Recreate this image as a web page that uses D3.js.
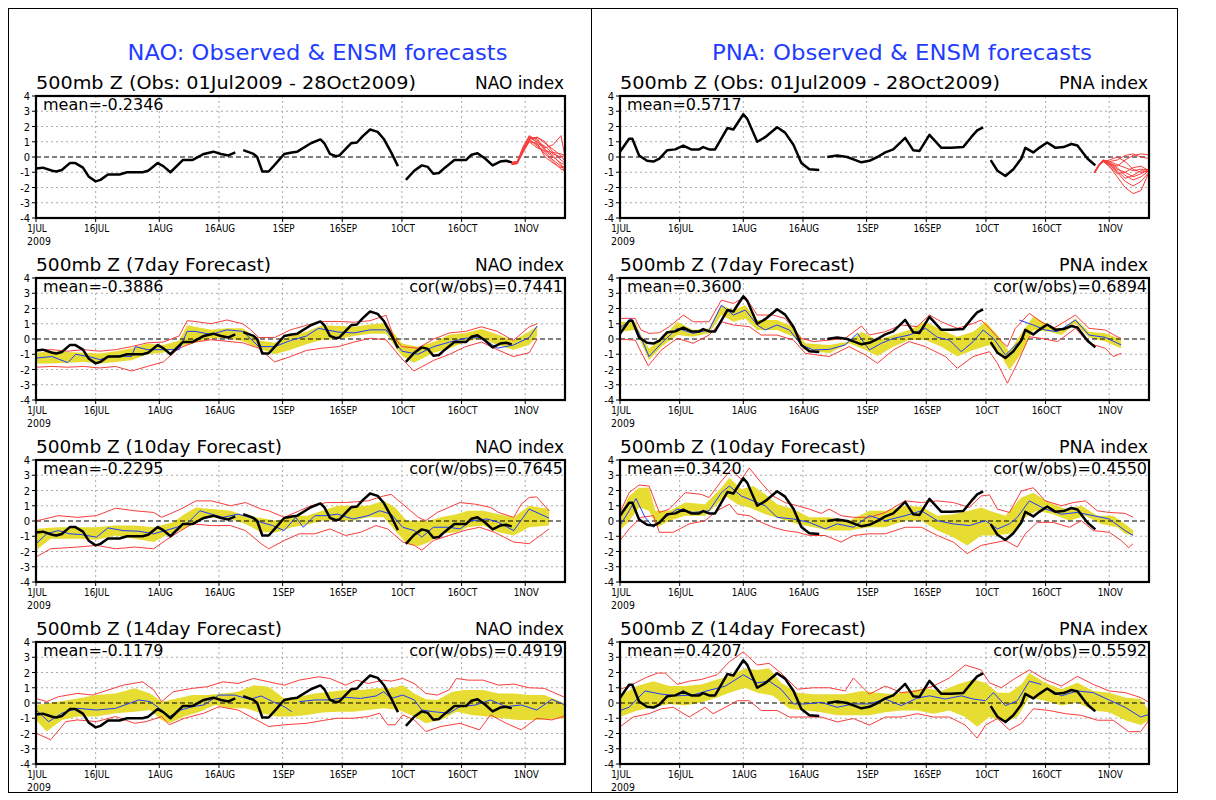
<!DOCTYPE html>
<html><head><meta charset="utf-8">
<script src="https://cdn.jsdelivr.net/npm/d3@7"></script>
<style>body{margin:0;background:#fff;} svg{display:block;} text{font-family:"DejaVu Sans",sans-serif;}</style>
</head><body><svg id="c" width="1216" height="800"></svg>
<script>
// ---------------- DATA ----------------
const dayTicks = [0,15,31,46,62,77,92,107,123];
const dayTickLabels = ["1JUL","16JUL","1AUG","16AUG","1SEP","16SEP","1OCT","16OCT","1NOV"];
const yTicks = [-4,-3,-2,-1,0,1,2,3,4];
const dayMax = 133;
const subTitles = ["500mb Z (Obs: 01Jul2009 - 28Oct2009)","500mb Z (7day Forecast)","500mb Z (10day Forecast)","500mb Z (14day Forecast)"];
const naoMeans = ["-0.2346","-0.3886","-0.2295","-0.1179"];
const naoCors = [null,"0.7441","0.7645","0.4919"];
const pnaMeans = ["0.5717","0.3600","0.3420","0.4207"];
const pnaCors = [null,"0.6894","0.4550","0.5592"];

// observed NAO (day since 1 Jul, value), segments split at missing data
const naoObs = [
 [[0,-0.75],[1.7,-0.7],[4.1,-0.9],[5.1,-0.95],[6.5,-0.85],[8.5,-0.4],[9.9,-0.4],[11.8,-0.7],[13.3,-1.3],[15,-1.6],[16.2,-1.5],[18.1,-1.15],[21,-1.15],[22.9,-1.0],[26.8,-1.0],[28.2,-0.9],[30.6,-0.4],[32,-0.6],[33.8,-1.0],[36.9,-0.2],[39.3,-0.2],[42.2,0.2],[44.6,0.35],[46.5,0.2],[48.4,0.1],[50.1,0.3]],
 [[52.1,0.45],[54.7,0.2],[55.6,0.0],[56.9,-0.95],[58.5,-0.95],[60.4,-0.4],[62.4,0.2],[64.3,0.3],[65.7,0.35],[69.1,0.9],[71.5,1.15],[72.5,0.9],[73.9,0.2],[75.4,0.05],[76.3,0.1],[79.2,0.9],[80.7,0.95],[82.1,1.35],[84,1.8],[85.9,1.65],[87.4,1.2],[89.3,0.3],[91,-0.6]],
 [[93,-1.5],[95.1,-0.9],[97,-0.55],[98.5,-0.65],[99.9,-1.1],[101.3,-1.05],[102.8,-0.7],[105.2,-0.2],[108.1,-0.2],[109.5,0.15],[111,0.25],[112.9,-0.1],[114.8,-0.55],[116.7,-0.3],[118.2,-0.25],[119.6,-0.35]]
];
const pnaObs = [
 [[0,0.35],[2.3,1.2],[3.1,1.2],[4.8,0.1],[6.8,-0.25],[8.4,-0.3],[9.9,-0.1],[11.9,0.45],[13.9,0.5],[15.9,0.75],[17.9,0.5],[19.9,0.5],[20.9,0.65],[22.4,0.5],[23.9,0.5],[27,1.9],[28.5,1.8],[31,2.8],[32,2.5],[34.5,1.0],[36.5,1.3],[39.5,1.95],[41.5,1.6],[43.6,0.8],[45.6,-0.4],[47.6,-0.8],[50.1,-0.85]],
 [[52.1,0.0],[54.6,0.1],[57.1,0.0],[59.2,-0.2],[60.7,-0.35],[62.7,-0.25],[64.7,0.0],[66.7,0.3],[68.7,0.5],[71.7,1.25],[73.7,0.45],[75.3,0.4],[77.8,1.45],[80.8,0.6],[83.3,0.6],[86.3,0.65],[88.3,1.3],[89.8,1.75],[91.3,1.95]],
 [[93.2,-0.2],[94.9,-0.9],[96.9,-1.25],[98.9,-0.8],[100.9,-0.1],[101.9,0.6],[103.9,0.3],[105.4,0.6],[107.4,0.95],[109.5,0.6],[111.5,0.65],[113.5,0.85],[115,0.75],[117.5,-0.1],[119.5,-0.55]]
];

// ensemble forecast members (top panels)
const naoEnsDays = [119.6,121,122.5,124,126,128,130,132,133];
const naoEns = [
 [-0.35,-0.3,0.6,1.3,1.0,0.7,0.2,0.0,0.1],
 [-0.4,-0.35,0.5,1.2,1.3,0.9,0.5,0.1,-0.3],
 [-0.45,-0.4,0.4,1.1,0.8,0.3,-0.2,-0.6,-0.7],
 [-0.35,-0.3,0.7,1.4,1.1,0.4,0.0,-0.4,-0.5],
 [-0.5,-0.45,0.3,1.0,0.9,0.6,0.8,1.4,0.0],
 [-0.4,-0.35,0.5,1.3,1.2,0.5,0.1,-0.5,-1.0],
 [-0.45,-0.35,0.6,1.2,0.7,0.2,-0.3,-0.8,-0.9],
 [-0.4,-0.3,0.5,1.0,0.6,0.4,0.3,0.2,0.1],
 [-0.35,-0.4,0.4,1.35,0.9,0.0,-0.4,-0.7,-0.6],
 [-0.5,-0.4,0.5,1.15,1.3,1.0,0.3,-0.2,-0.4]
];
const pnaEnsDays = [119.3,120.5,121.5,123,125,127,129,131,133];
const pnaEns = [
 [-1.05,-0.5,-0.2,-0.4,-0.6,-0.2,0.1,0.2,0.15],
 [-1.0,-0.45,-0.25,-0.5,-0.9,-1.4,-1.2,-0.9,-0.95],
 [-1.05,-0.55,-0.3,-0.6,-1.3,-2.0,-2.4,-2.2,-1.0],
 [-0.95,-0.5,-0.2,-0.3,-0.5,-0.7,-0.9,-0.8,-0.85],
 [-1.0,-0.5,-0.3,-0.2,0.0,-0.3,-0.8,-1.0,-0.9],
 [-1.05,-0.55,-0.25,-0.5,-1.0,-1.6,-1.9,-1.6,-1.0],
 [-1.0,-0.45,-0.2,-0.3,-0.2,0.1,0.2,0.0,-0.1],
 [-1.0,-0.5,-0.3,-0.45,-0.8,-1.0,-1.3,-1.1,-0.8],
 [-1.05,-0.5,-0.25,-0.4,-0.7,-1.2,-1.5,-1.3,-0.9],
 [-1.0,-0.5,-0.3,-0.6,-1.1,-1.0,-0.7,-0.6,-0.9]
];

// ---- NAO 7-day forecast ----
const naoF7Mean = [[[0,-1.25],[4,-1.15],[8,-1.55],[10,-1.0],[14,-1.2],[16,-1.35],[20,-1.1],[24,-1.15],[25,-0.5],[28,-0.7],[32,-0.7],[36,-0.7],[38,0.5],[40,0.5],[44,0.3],[48,0.6],[52,0.5],[56,-0.5],[60,-0.5],[64,-0.1],[68,0.2],[71,0.7],[76,0.45],[80,0.4],[84,0.6],[88,0.6],[92,-0.8],[96,-1.0],[100,-0.5],[104,-0.2],[108,0.05],[112,0.1],[116,-0.6],[120,-0.4],[124,0.1],[126,0.85]]];
const naoF7YelHi = [[0,-0.9],[4,-0.8],[8,-0.85],[12,-0.9],[16,-0.95],[20,-0.8],[24,-0.6],[28,-0.3],[32,-0.4],[36,-0.1],[38,0.9],[40,0.8],[44,0.6],[48,0.7],[52,0.7],[56,-0.1],[60,-0.25],[64,0.2],[68,0.5],[72,0.9],[76,0.85],[80,0.8],[84,0.95],[88,1.05],[92,-0.3],[96,-0.5],[100,-0.2],[104,0.3],[108,0.4],[112,0.65],[116,0.3],[120,-0.1],[124,0.5],[126,0.85]];
const naoF7YelLo = [[0,-1.6],[4,-1.6],[8,-1.55],[12,-1.5],[16,-1.6],[20,-1.5],[24,-1.4],[28,-1.0],[32,-0.9],[36,-0.5],[40,-0.25],[44,0.05],[48,0.05],[52,-0.15],[56,-0.6],[60,-1.0],[64,-0.7],[68,-0.35],[72,-0.05],[76,0.0],[80,0.2],[84,0.35],[88,0.35],[92,-1.1],[95,-1.55],[100,-0.9],[104,-0.6],[108,-0.2],[112,0.05],[116,-0.4],[120,-0.7],[124,-0.4],[126,0.2]];
const naoF7RedHi = [[0,-0.7],[4,-0.7],[8,-0.8],[12,-0.7],[16,-0.8],[20,-0.7],[24,-0.5],[28,-0.25],[32,-0.2],[36,0.2],[38,1.2],[40,1.15],[44,1.0],[48,1.25],[52,1.0],[54,0.6],[56,0.1],[60,0.1],[64,0.6],[68,0.9],[72,1.15],[76,1.15],[80,1.1],[84,1.2],[88,1.55],[90,0.1],[92,-0.5],[96,-0.6],[100,0.0],[104,0.4],[108,0.5],[112,0.8],[116,0.5],[120,-0.1],[124,0.8],[126,1.0]];
const naoF7RedLo = [[0,-1.85],[4,-1.8],[8,-1.85],[12,-1.8],[16,-1.9],[20,-1.8],[24,-2.1],[28,-1.8],[32,-1.5],[36,-0.6],[40,-0.2],[44,-0.05],[48,-0.15],[52,-0.25],[56,-0.6],[60,-1.5],[64,-1.15],[68,-0.75],[72,-0.6],[76,-0.5],[80,-0.2],[84,0.05],[88,-0.05],[92,-1.3],[95,-2.1],[100,-1.4],[104,-1.0],[108,-0.5],[112,-0.2],[116,-0.7],[120,-1.15],[124,-0.9],[126,0.0]];

// ---- NAO 10-day forecast ----
const naoF10Mean = [[[0,-1.49],[2.7,-0.84],[5.6,-0.63],[8.5,-0.84],[11.4,-0.89],[15.2,-1.06],[18.1,-0.45],[21.9,-0.63],[25.8,-0.67],[29.6,-0.84],[32.5,-0.63],[35.4,-0.41],[38.3,-0.09],[41.2,0.67],[44.1,0.45],[47,0.24],[50.8,0.45],[53.7,0.24],[56.6,-0.09],[59.5,-0.3],[62.4,-0.63],[65.3,0.24],[67.2,-0.41],[70.1,0.35],[73,0.35],[75.8,0.45],[79.7,0.13],[83.5,0.35],[86.4,0.67],[89.3,0.45],[92.2,-0.41],[95.1,-0.63],[97,-1.06],[99.9,-0.41],[103.8,-0.41],[106.6,-0.52],[109.5,0.02],[113.4,0.13],[116.3,-0.09],[120.1,-0.63],[124,0.78],[129,0.19]]];
const naoF10YelHi = [[0,-0.5],[5.6,-0.41],[10.4,-0.41],[15.2,-0.41],[20,-0.3],[24.8,-0.3],[29.6,-0.41],[34.5,-0.09],[37.3,0.45],[40.2,0.89],[44.1,0.78],[48.9,0.67],[52.7,0.35],[56.6,0.19],[60.4,0.02],[64.3,0.35],[68.1,0.35],[72,0.67],[75.8,1.0],[79.7,1.0],[83.5,1.0],[87.4,1.32],[90.3,0.89],[93.2,0.02],[96.1,0.02],[98.9,0.02],[101.8,0.24],[105.7,0.45],[108.6,0.67],[112.4,0.67],[116.3,0.45],[120.1,0.24],[124,1.0],[129,0.78]];
const naoF10YelLo = [[0,-1.92],[3.7,-1.17],[10.4,-1.17],[15.2,-1.23],[20,-0.95],[24.8,-1.17],[29.6,-1.38],[33.5,-0.84],[37.3,-0.52],[41.2,0.13],[45,0.24],[48.9,0.13],[52.7,-0.19],[56.6,-0.74],[60.4,-0.74],[64.3,-0.41],[68.1,-0.24],[72,0.02],[75.8,0.02],[79.7,0.02],[83.5,0.24],[87.4,0.24],[90.3,-0.63],[93.2,-1.49],[96.1,-1.66],[98.9,-1.38],[101.8,-0.84],[105.7,-0.74],[108.6,-0.41],[112.4,-0.3],[116.3,-0.74],[120.1,-0.95],[124,-0.41],[129,-0.3]];
const naoF10RedHi = [[0,0.0],[5.6,0.35],[10.4,0.24],[15.2,0.35],[20,0.84],[24.8,0.67],[29.6,0.56],[31.6,0.24],[36.4,0.78],[40.2,1.32],[44.1,1.32],[48.9,1.0],[52.7,1.21],[56.6,0.78],[58.5,0.67],[62.4,0.24],[66.2,0.67],[69.1,1.0],[73,1.21],[77.8,1.21],[83.5,1.32],[87.4,1.64],[89.3,1.75],[91.2,1.32],[93.2,0.89],[96.1,0.24],[98,0.02],[100.9,0.56],[103.8,0.89],[106.6,1.21],[110.5,1.1],[114.3,0.89],[116.3,0.56],[120.1,0.24],[122,1.1],[124,1.54],[125.9,1.58],[129,0.67]];
const naoF10RedLo = [[0,-2.36],[3.7,-1.82],[10.4,-1.71],[15.2,-1.6],[20,-1.82],[24.8,-1.71],[29.6,-1.82],[32.5,-1.28],[36.4,-0.63],[39.3,-0.19],[44.1,-0.3],[48.9,-0.3],[52.7,-0.63],[56.6,-1.49],[58.5,-1.82],[62.4,-1.28],[66.2,-0.84],[70.1,-0.84],[73.9,-0.52],[77.8,-0.95],[81.6,-0.74],[85.5,-0.3],[88.4,-0.52],[92.2,-1.38],[95.1,-1.6],[97,-1.92],[99.9,-1.28],[103.8,-0.95],[107.6,-0.63],[111.5,-0.41],[115.3,-0.74],[120.1,-1.38],[124,-1.49],[129,-0.52]];

// ---- NAO 14-day forecast ----
const naoF14Mean = [
 [[0,-0.46],[3.2,-1.22],[6.5,-0.67],[10.4,-0.35],[15.2,-0.46],[20,-0.35],[25.8,0.2],[28.7,0.09],[31.6,-0.46],[33.5,-0.89],[36.4,-0.46],[39.3,-0.24],[42.2,-0.13],[46,0.52],[49.9,0.52],[53.7,0.24],[56.6,0.46],[59.5,0.09],[62.4,-0.24],[64.3,-0.57]],
 [[66.2,0.09],[70.1,0.2],[73.9,0.2],[77.8,0.37],[81.6,0.3],[85.5,0.46],[87.4,0.74],[89.3,0.3],[92.2,0.52],[95.1,0.2],[97,-0.46],[99.9,-0.57],[103.8,-0.67],[106.6,-0.24],[110.5,-0.13],[114.3,0.2],[118.2,-0.24],[122,-0.13],[125.9,-0.46],[129.7,0.24],[133,-0.13]]
];
const naoF14YelHi = [[0,-0.13],[5.6,0.09],[10.4,0.3],[15.2,0.52],[20,0.63],[24.8,0.96],[28.7,0.63],[31.6,0.09],[35.4,0.3],[39.3,0.52],[43.1,0.52],[47,0.63],[50.8,0.74],[54.7,1.17],[58.5,1.07],[62.4,0.3],[66.2,0.41],[70.1,0.63],[73.9,0.74],[77.8,0.85],[81.6,0.85],[85.5,0.96],[89.3,0.96],[92.2,1.17],[95.1,0.63],[98,0.24],[100.9,0.2],[104.7,0.74],[107.6,0.85],[112.4,0.85],[116.3,0.63],[120.1,0.63],[124,0.52],[127.8,0.52],[133,-0.02]];
const naoF14YelLo = [[0,-1.11],[2.7,-1.87],[6.5,-1.11],[10.4,-0.89],[15.2,-0.89],[20,-0.67],[24.8,-0.57],[28.7,-0.46],[31.6,-1.11],[33.5,-1.33],[37.3,-0.89],[41.2,-0.57],[45,-0.13],[48.9,-0.35],[52.7,-0.35],[56.6,-0.67],[60.4,-0.89],[64.3,-0.89],[68.1,-0.78],[72,-0.63],[75.8,-0.57],[79.7,-0.57],[83.5,-0.46],[87.4,-0.35],[91.2,-0.46],[95.1,-0.89],[98,-1.33],[101.8,-1.11],[105.7,-0.57],[109.5,-0.78],[113.4,-0.89],[117.2,-1.0],[121,-1.11],[125.9,-1.11],[133,-1.0]];
const naoF14RedHi = [[0,0.3],[2.7,0.09],[5.6,0.41],[10.4,0.63],[14.2,0.52],[18.1,0.85],[21.9,1.17],[26.8,1.39],[29.6,0.85],[31.6,0.09],[34.5,0.74],[39.3,0.96],[43.1,1.07],[47,1.39],[50.8,1.28],[54.7,1.61],[58.5,1.39],[62.4,1.17],[66.2,1.5],[71,1.72],[73.9,1.61],[77.8,1.17],[80.7,1.5],[83.5,1.28],[87.4,1.5],[89.3,1.43],[92.2,1.61],[95.1,1.28],[98,0.63],[100.9,0.52],[103.8,0.85],[105.7,1.61],[108.6,1.5],[112.4,1.5],[116.3,1.17],[120.1,1.24],[124,1.0],[127.8,0.96],[132.6,0.41],[133,0.4]];
const naoF14RedLo = [[0,-1.98],[3.7,-2.41],[7.5,-1.22],[10.4,-1.11],[15.2,-1.22],[20,-0.89],[24.8,-1.33],[27.7,-1.22],[31.6,-0.89],[33.5,-1.43],[37.3,-1.0],[42.2,-0.67],[46,-0.24],[50.8,-0.46],[54.7,-1.0],[58.5,-1.54],[62.4,-1.43],[68.1,-1.33],[72,-1.15],[75.8,-1.0],[79.7,-1.0],[83.5,-0.89],[86.4,-0.67],[88.4,-1.43],[90.3,-1.43],[92.2,-0.78],[95.1,-1.11],[98,-1.87],[101.8,-1.54],[106.6,-1.33],[111.5,-1.76],[114.3,-0.78],[118.2,-1.33],[122,-1.76],[125.9,-1.0],[129.7,-1.11],[133,-0.85]];

// ---- PNA 7-day forecast ----
const pnaF7Mean = [
 [[0,0.7],[2.8,1.35],[4.8,0.37],[7.3,-1.15],[10.4,-0.28],[14.4,0.7],[18.4,0.37],[22.4,0.59],[25.5,2.22],[28.5,1.57],[31.5,1.9],[34.5,0.92],[36.5,0.59],[39.5,0.92],[42.6,0.59],[45.6,-0.39],[48.6,-0.72],[52.6,-0.68],[56.6,-0.39],[59.7,0.37],[62.7,-0.72],[65.7,-0.28],[68.7,0.04],[72.7,0.26],[76.8,0.7],[79.8,0.11],[82.8,-0.07],[85.8,-0.83],[88.8,-0.17],[91.3,0.59],[93.9,0.04],[96.9,-1.05],[99.9,-0.28]],
 [[100.4,1.24],[103.9,0.92],[106.9,0.59],[110,0.48],[114.5,1.24],[117.9,0.26],[122,0.11],[126,-0.39]]
];
const pnaF7YelHi = [[0,1.13],[3.8,1.13],[5.3,0.26],[7.3,-0.61],[10.4,-0.07],[14.4,1.13],[18.4,0.59],[22.4,0.7],[25.5,2.22],[28.5,1.9],[31.5,2.22],[34.5,1.24],[39.5,1.24],[43.6,0.81],[46.6,-0.28],[52.6,-0.39],[57.6,-0.17],[60.7,0.48],[64.7,-0.07],[68.7,0.26],[72.7,0.59],[76.8,1.13],[80.8,0.59],[84.8,0.15],[88.8,0.48],[91.9,1.13],[94.9,0.26],[97.9,-0.83],[100.9,0.37],[103.9,1.46],[107.9,0.92],[111,0.59],[114.5,1.35],[117.9,0.48],[122,0.37],[126,-0.02]];
const pnaF7YelLo = [[0,0.48],[3.8,0.59],[7.3,-1.37],[10.4,-0.5],[14.4,0.26],[18.4,0.15],[22.4,0.37],[25.5,1.57],[28.5,1.13],[31.5,1.35],[34.5,0.59],[39.5,0.59],[43.6,0.15],[46.6,-0.72],[52.6,-0.94],[57.6,-0.28],[61.7,-0.72],[64.7,-1.11],[68.7,-0.5],[72.7,-0.07],[76.8,-0.07],[80.8,-0.5],[84.8,-1.15],[88.8,-0.72],[92.9,-0.39],[95.9,-1.15],[97.9,-2.03],[100.9,-0.94],[103.9,0.59],[107.9,0.48],[111,0.26],[114.5,1.02],[117.9,0.11],[122,-0.17],[126,-0.61]];
const pnaF7RedHi = [[0,1.35],[3.8,1.35],[5.3,0.59],[7.3,0.37],[9.9,0.41],[12.4,0.81],[15.9,1.57],[18.4,1.13],[22.4,1.13],[25.5,2.55],[28.5,2.33],[31.5,2.77],[34.5,1.57],[38.5,1.57],[41.5,1.35],[45.6,0.04],[48.6,-0.17],[52.6,-0.07],[56.6,0.04],[60.7,0.85],[62.7,0.26],[66.7,0.48],[70.7,0.92],[74.7,0.81],[77.8,1.57],[80.8,1.13],[84.8,0.7],[88.8,1.02],[90.8,1.24],[92.9,0.7],[95.9,-0.17],[97.4,-0.5],[99.4,0.7],[102.9,1.68],[105.9,1.13],[109,0.7],[114.5,1.57],[117.9,0.7],[122,0.59],[125,0.15],[126,0.04]];
const pnaF7RedLo = [[0,-0.02],[3.8,-0.07],[7.1,-1.76],[10.4,-0.72],[14.4,0.04],[18.4,-0.28],[22.4,0.26],[25.5,1.13],[28.5,0.92],[32.5,0.81],[35.5,0.26],[39.5,0.26],[43.6,-0.07],[46.6,-0.94],[52.6,-1.15],[57.6,-0.5],[61.7,-1.05],[64.7,-1.59],[68.7,-0.72],[72.7,-0.17],[76.8,-0.5],[81.8,-1.15],[84.8,-1.92],[88.8,-1.15],[92.9,-0.83],[94.9,-1.59],[97.4,-2.9],[99.9,-1.59],[102.9,0.15],[105.9,0.04],[110,-0.17],[114.5,0.7],[117.9,-0.28],[122,-0.61],[124,-1.15],[126,-0.94]];

// ---- PNA 10-day forecast ----
const pnaF10Mean = [[[0,-0.3],[2.3,0.67],[4,1.47],[6.3,0.24],[8.4,-0.41],[11.4,0.24],[14.4,0.78],[18.4,0.56],[22.4,0.67],[25.5,1.86],[27.5,2.29],[30.5,1.64],[33.5,1.32],[36.5,1.0],[39.5,0.24],[43.6,0.13],[47.6,-0.09],[51.6,-0.52],[54.6,-0.19],[58.7,-0.41],[62.7,0.35],[66.7,0.02],[71.7,0.35],[75.8,0.67],[79.8,0.02],[83.8,-0.19],[87.8,-0.3],[91.9,0.02],[94.9,-0.52],[97.9,-0.19],[99.9,0.24],[102.9,1.32],[106.9,0.78],[111,0.45],[115,0.56],[119,0.35],[123,0.13],[127,-0.63],[129,-0.95]]];
const pnaF10YelHi = [[0,0.45],[2.3,1.64],[4.8,2.18],[7.3,2.18],[8.9,0.67],[12.4,0.67],[16.4,1.21],[21.4,1.1],[25.5,2.18],[27.5,2.83],[30.5,2.08],[33.5,2.29],[36.5,1.75],[39.5,1.1],[43.6,0.78],[47.6,0.24],[52.6,0.24],[57.6,0.02],[62.7,0.67],[66.7,0.67],[71.7,1.0],[75.8,0.94],[79.8,0.35],[83.8,0.45],[87.8,0.67],[90.8,0.89],[92.9,0.67],[96.9,0.35],[100.9,1.54],[103.9,1.86],[107.9,1.21],[112,0.78],[116,1.0],[120,0.35],[124,0.35],[127,-0.19],[129,-0.63]];
const pnaF10YelLo = [[0,-0.63],[2.3,0.0],[4.8,0.89],[7.3,0.67],[9.4,-0.41],[12.4,0.02],[16.4,0.35],[21.4,0.35],[24.4,1.1],[26.5,1.64],[29.5,1.1],[32.5,0.89],[36.5,0.45],[40.5,0.13],[44.6,-0.19],[48.6,-0.41],[52.6,-0.63],[57.6,-0.63],[62.7,-0.41],[66.7,-0.41],[71.7,0.02],[75.8,0.02],[79.8,-0.63],[83.8,-1.06],[87.3,-1.6],[90.8,-0.95],[93.9,-0.95],[97.9,-0.84],[99.9,-0.63],[101.9,0.24],[104.9,0.67],[108.9,0.45],[113,0.02],[117,0.35],[121,-0.19],[125,-0.41],[127,-0.84],[129,-0.95]];
const pnaF10RedHi = [[0,0.56],[2.3,1.86],[4.8,2.36],[7.3,2.29],[9.9,0.56],[12.4,0.78],[16.4,1.86],[20.4,1.75],[22.4,1.54],[25.5,2.62],[28,3.37],[30.5,2.72],[32.5,3.48],[35.5,2.51],[38.5,1.64],[41.5,1.21],[44.6,1.0],[47.6,0.78],[50.6,0.5],[52.6,0.78],[55.6,0.35],[58.7,0.24],[62.7,0.24],[66.7,0.56],[71.7,1.32],[75.8,1.21],[79.8,1.32],[83.8,1.21],[87.8,0.89],[90.8,1.64],[92.9,1.71],[94.9,0.78],[97.9,0.56],[100.9,1.97],[103.9,2.18],[106.9,1.32],[111,1.0],[114,1.21],[117,1.32],[120,0.67],[123,0.56],[127,0.5],[129,0.24]];
const pnaF10RedLo = [[0,-1.28],[2.3,-0.52],[5.3,0.24],[8.4,0.35],[9.9,-0.74],[13.4,-0.74],[17.4,-0.19],[21.4,0.02],[24.4,0.67],[27.5,1.1],[29.5,0.45],[32.5,0.35],[35.5,-0.09],[38.5,-0.41],[41.5,-0.63],[44.6,-0.74],[47.6,-0.95],[51.6,-0.95],[55.6,-1.38],[58.7,-0.95],[62.7,-0.84],[66.7,-0.84],[71.7,-0.41],[75.8,-0.41],[79.8,-0.95],[83.8,-1.38],[87.3,-2.14],[90.8,-1.6],[92.9,-1.49],[96.9,-1.28],[99.9,-1.71],[101.9,-0.84],[104.9,-0.09],[108.9,-0.09],[113,-0.41],[116,0.02],[119,-0.63],[123,-0.74],[126,-1.28],[127.9,-1.75],[129,-1.49]];

// ---- PNA 14-day forecast ----
const pnaF14Mean = [
 [[0,-0.49],[2.3,-0.28],[6.3,0.79],[10.4,0.58],[14.4,0.47],[18.4,0.53],[22.4,0.83],[26.5,1.11],[31,1.85],[34.5,1.32],[37.5,1.43],[40.5,0.9],[43.6,-0.06],[46.6,-0.06],[50.6,0.04],[54.6,-0.28],[58.7,-0.06],[62.7,-0.06],[66.7,0.26],[70.7,-0.17],[74.7,0.32],[77.8,0.47],[81.8,0.26],[85.8,0.47],[88.8,0.26],[91.9,0.15],[93.9,0.68],[96.9,-0.17],[99.9,0.15],[102.9,1.43],[105.9,1.22]],
 [[107.9,0.9],[111,0.47],[115,0.79],[119,0.68],[123,0.19],[127,-0.28],[130.9,-0.92],[133,-0.75]]
];
const pnaF14YelHi = [[0,0.47],[4.3,1.11],[8.4,1.43],[12.4,1.11],[16.4,1.11],[20.4,1.22],[24.4,1.54],[27.5,1.75],[31.5,2.28],[34.5,2.17],[37.5,2.28],[40.5,1.32],[44.6,0.68],[48.6,0.58],[52.6,0.58],[56.6,0.58],[60.7,0.79],[64.7,0.68],[68.7,0.58],[72.7,0.79],[76.8,0.96],[80.8,0.79],[84.8,1.22],[88.8,1.54],[91.9,1.32],[94.9,0.68],[97.9,0.68],[100.9,1.22],[102.9,1.96],[106.9,1.32],[111,0.9],[115,1.32],[119,0.79],[123,0.68],[127,0.36],[130.9,0.26],[133,-0.49]];
const pnaF14YelLo = [[0,-0.92],[4.3,-0.49],[8.4,-0.28],[12.4,-0.06],[16.4,-0.17],[20.4,0.04],[24.4,0.36],[27.5,0.68],[31.5,1.0],[34.5,0.68],[38.5,0.47],[42.6,-0.38],[46.6,-0.49],[50.6,-0.6],[54.6,-0.81],[58.7,-0.81],[62.7,-0.81],[66.7,-0.6],[70.7,-0.49],[74.7,-0.49],[78.8,-0.7],[82.8,-0.49],[86.8,-0.92],[89.8,-1.56],[92.9,-0.92],[96.9,-1.24],[99.9,-0.92],[102.9,0.36],[106.9,0.15],[111,-0.17],[115,0.04],[119,-0.49],[123,-0.6],[127,-1.13],[130.9,-1.45],[133,-1.13]];
const pnaF14RedHi = [[0,0.9],[2.3,1.11],[6.3,1.64],[9.4,1.96],[11.4,1.96],[14.4,1.22],[17.4,1.43],[20.4,1.54],[24.4,1.85],[27.5,2.71],[31,3.35],[34.5,2.49],[37.5,2.6],[40.5,1.96],[44.6,0.9],[48.6,1.0],[52.6,1.0],[56.6,0.79],[58.7,1.64],[62.7,0.58],[66.7,1.11],[70.7,0.68],[74.7,0.79],[78.8,1.11],[82.8,1.64],[86.8,2.49],[90.8,2.17],[92.9,1.32],[95.9,1.0],[98.9,1.54],[102.9,2.17],[106.9,1.54],[111,1.11],[115,1.75],[119,1.22],[123,0.79],[127,0.68],[130.9,0.36],[133,0.04]];
const pnaF14RedLo = [[0,-1.56],[3.3,-0.92],[7.3,-0.7],[10.4,-0.38],[13.4,-0.28],[17.4,-0.92],[21.4,-0.28],[23.4,-0.7],[26.5,-0.28],[29.5,0.15],[32.5,0.15],[35.5,-0.49],[39.5,-0.49],[42.6,-0.92],[46.6,-0.92],[50.6,-0.92],[54.6,-1.24],[58.7,-1.02],[62.7,-1.45],[66.7,-0.92],[70.7,-0.92],[74.7,-0.7],[78.8,-0.92],[82.8,-0.92],[86.8,-1.45],[89.8,-2.3],[91.9,-1.45],[94.9,-1.02],[97.9,-1.77],[100.9,-1.34],[103.9,-0.38],[107.9,-0.49],[112,-0.7],[116,-0.81],[120,-1.13],[124,-1.13],[127.9,-1.88],[130.9,-1.88],[133,-1.13]];

// ---------------- DRAWING ----------------
const svg = d3.select("#c");
const C_RED = "rgb(250,60,60)", C_BLUE = "rgb(30,60,255)", C_YEL = "rgb(230,220,50)", C_GRID = "rgb(170,170,170)";
const W = 529, H = 122;
const cols = [{px: 36, name: "NAO", means: naoMeans, cors: naoCors, obs: naoObs, ensDays: naoEnsDays, ens: naoEns,
  fc: [null,
   {mean: naoF7Mean, yh: naoF7YelHi, yl: naoF7YelLo, rh: naoF7RedHi, rl: naoF7RedLo},
   {mean: naoF10Mean, yh: naoF10YelHi, yl: naoF10YelLo, rh: naoF10RedHi, rl: naoF10RedLo},
   {mean: naoF14Mean, yh: naoF14YelHi, yl: naoF14YelLo, rh: naoF14RedHi, rl: naoF14RedLo}],
  title: "NAO: Observed & ENSM forecasts", tx: 127.5},
 {px: 620, name: "PNA", means: pnaMeans, cors: pnaCors, obs: pnaObs, ensDays: pnaEnsDays, ens: pnaEns,
  fc: [null,
   {mean: pnaF7Mean, yh: pnaF7YelHi, yl: pnaF7YelLo, rh: pnaF7RedHi, rl: pnaF7RedLo},
   {mean: pnaF10Mean, yh: pnaF10YelHi, yl: pnaF10YelLo, rh: pnaF10RedHi, rl: pnaF10RedLo},
   {mean: pnaF14Mean, yh: pnaF14YelHi, yl: pnaF14YelLo, rh: pnaF14RedHi, rl: pnaF14RedLo}],
  title: "PNA: Observed & ENSM forecasts", tx: 712}];
const tops = [96, 278, 460, 642];

// outer frame
svg.append("rect").attr("x", 8.5).attr("y", 8.5).attr("width", 1169).attr("height", 784)
  .attr("fill", "none").attr("stroke", "#000").attr("stroke-width", 1);
svg.append("line").attr("x1", 591.5).attr("x2", 591.5).attr("y1", 8.5).attr("y2", 792.5).attr("stroke", "#000");

function squeeze(sel, factor) {
  sel.each(function() {
    const L = this.getComputedTextLength();
    d3.select(this).attr("textLength", L * factor).attr("lengthAdjust", "spacingAndGlyphs");
  });
}

cols.forEach(col => {
  const t = svg.append("text").attr("x", col.tx).attr("y", 60).attr("fill", C_BLUE)
    .attr("font-size", 21).text(col.title);
  t.attr("textLength", 380).attr("lengthAdjust", "spacingAndGlyphs");

  tops.forEach((top, r) => {
    const px = col.px;
    const x = d3.scaleLinear().domain([0, dayMax]).range([px, px + W]);
    const y = d3.scaleLinear().domain([-4, 4]).range([top + H, top]);
    const line = d3.line().x(d => x(d[0])).y(d => y(d[1]));
    const g = svg.append("g");

    // grid
    g.selectAll(null).data(dayTicks.slice(1)).join("line")
      .attr("x1", d => x(d)).attr("x2", d => x(d)).attr("y1", top).attr("y2", top + H)
      .attr("stroke", C_GRID).attr("stroke-dasharray", "2,3").attr("stroke-width", 1);
    g.selectAll(null).data(yTicks.filter(v => v !== 0 && Math.abs(v) < 4)).join("line")
      .attr("x1", x(0)).attr("x2", x(dayMax)).attr("y1", d => y(d)).attr("y2", d => y(d))
      .attr("stroke", C_GRID).attr("stroke-dasharray", "2,3").attr("stroke-width", 1);

    const fc = col.fc[r];
    if (fc) {
      const poly = fc.yh.concat(fc.yl.slice().reverse());
      g.append("path").attr("d", line(poly) + "Z").attr("fill", C_YEL).attr("stroke", "none");
    }
    // zero line
    g.append("line").attr("x1", x(0)).attr("x2", x(dayMax)).attr("y1", y(0)).attr("y2", y(0))
      .attr("stroke", "#000").attr("stroke-width", 1.2).attr("stroke-dasharray", "5,3");

    if (fc) {
      [fc.rh, fc.rl].forEach(s => g.append("path").attr("d", line(s)).attr("fill", "none")
        .attr("stroke", C_RED).attr("stroke-width", 1));
      fc.mean.forEach(s => g.append("path").attr("d", line(s)).attr("fill", "none")
        .attr("stroke", C_BLUE).attr("stroke-width", 1));
    } else {
      col.ens.forEach(m => {
        const pts = m.map((v, i) => [col.ensDays[i], v]);
        g.append("path").attr("d", line(pts)).attr("fill", "none").attr("stroke", C_RED).attr("stroke-width", 1);
      });
    }
    // observed
    col.obs.forEach(s => g.append("path").attr("d", line(s)).attr("fill", "none")
      .attr("stroke", "#000").attr("stroke-width", 2.5).attr("stroke-linejoin", "round"));

    // frame
    g.append("rect").attr("x", px).attr("y", top).attr("width", W).attr("height", H)
      .attr("fill", "none").attr("stroke", "#000").attr("stroke-width", 2.2);

    // ticks
    g.selectAll(null).data(yTicks).join("line")
      .attr("x1", px - 4).attr("x2", px).attr("y1", d => y(d)).attr("y2", d => y(d))
      .attr("stroke", "#000").attr("stroke-width", 1);
    g.selectAll(null).data(dayTicks).join("line")
      .attr("x1", d => x(d)).attr("x2", d => x(d)).attr("y1", top + H).attr("y2", top + H + 4)
      .attr("stroke", "#000").attr("stroke-width", 1);

    // tick labels
    const yl = g.selectAll(null).data(yTicks).join("text")
      .attr("x", px - 6).attr("y", d => y(d) + 4).attr("text-anchor", "end")
      .attr("font-size", 11).text(d => d < 0 ? "-" + Math.abs(d) : String(d));
    squeeze(yl, 0.9);
    const xl = g.selectAll(null).data(dayTicks).join("text")
      .attr("x", (d, i) => x(d) + 1).attr("y", top + H + 14).attr("text-anchor", "middle")
      .attr("font-size", 11).text((d, i) => dayTickLabels[i]);
    squeeze(xl, 0.8);
    const yr = g.append("text").attr("x", x(0) + 3).attr("y", top + H + 26.5).attr("text-anchor", "middle")
      .attr("font-size", 11).text("2009");
    squeeze(yr, 0.85);

    // titles
    const st = g.append("text").attr("x", px).attr("y", top - 7).attr("font-size", 17).text(subTitles[r]);
    const stW = [380, 235, 246, 246][r];
    st.attr("textLength", stW).attr("lengthAdjust", "spacingAndGlyphs");
    g.append("text").attr("x", px + 528).attr("y", top - 7).attr("text-anchor", "end")
      .attr("font-size", 17).attr("textLength", 89).attr("lengthAdjust", "spacingAndGlyphs")
      .text(col.name + " index");
    g.append("text").attr("x", px + 7).attr("y", top + 14).attr("font-size", 16)
      .text("mean=" + col.means[r]);
    if (col.cors[r]) {
      g.append("text").attr("x", px + 527).attr("y", top + 14).attr("text-anchor", "end")
        .attr("font-size", 16).text("cor(w/obs)=" + col.cors[r]);
    }
  });
});
</script></body></html>
